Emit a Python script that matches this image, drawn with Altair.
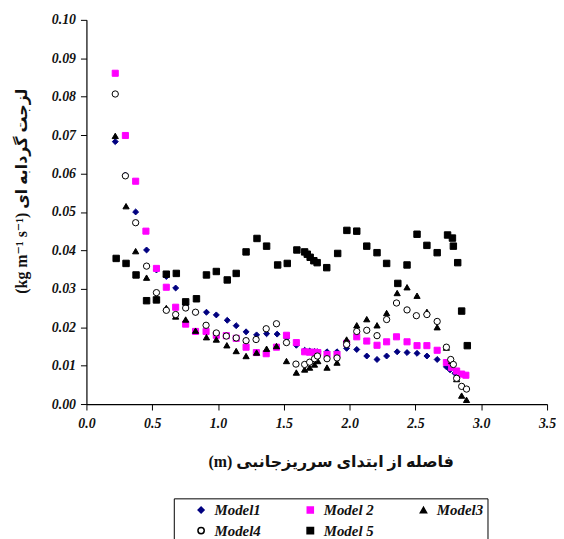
import altair as alt
import pandas as pd

series_names = ["Model1", "Model 2", "Model3", "Model4", "Model 5"]

m1_x = [0.219, 0.296, 0.374, 0.457, 0.532, 0.607, 0.678, 0.754, 0.829, 0.912, 0.987, 1.070, 1.138, 1.213,
        1.293, 1.369, 1.449, 1.522, 1.595, 1.658, 1.696, 1.733, 1.758, 1.828, 1.904, 1.977, 2.054, 2.130,
        2.208, 2.281, 2.361, 2.436, 2.512, 2.587, 2.665, 2.735, 2.763, 2.800]
m1_y = [0.0683, 0.0596, 0.0500, 0.0401, 0.0349, 0.0332, 0.0302, 0.0258, 0.0239, 0.0239, 0.0232, 0.0218, 0.0204, 0.0188,
        0.0180, 0.0183, 0.0182, 0.0172, 0.0153, 0.0140, 0.0138, 0.0137, 0.0136, 0.0136, 0.0136, 0.0145, 0.0142, 0.0125,
        0.0116, 0.0125, 0.0136, 0.0134, 0.0132, 0.0125, 0.0116, 0.0097, 0.0089, 0.0080]

m2_x = [0.219, 0.296, 0.374, 0.452, 0.532, 0.607, 0.678, 0.754, 0.829, 0.909, 0.987, 1.063, 1.138, 1.213,
        1.291, 1.366, 1.444, 1.520, 1.595, 1.658, 1.696, 1.733, 1.758, 1.828, 1.904, 1.977, 2.054, 2.130,
        2.208, 2.281, 2.356, 2.436, 2.512, 2.587, 2.665, 2.735, 2.775, 2.813, 2.851, 2.883]
m2_y = [0.0861, 0.0699, 0.0580, 0.0450, 0.0353, 0.0304, 0.0252, 0.0208, 0.0189, 0.0189, 0.0179, 0.0178, 0.0171, 0.0148,
        0.0134, 0.0131, 0.0148, 0.0179, 0.0160, 0.0136, 0.0135, 0.0135, 0.0134, 0.0129, 0.0129, 0.0158, 0.0175, 0.0164,
        0.0153, 0.0162, 0.0175, 0.0162, 0.0152, 0.0152, 0.0140, 0.0108, 0.0095, 0.0086, 0.0078, 0.0075]

m3_x = [0.219, 0.301, 0.374, 0.457, 0.532, 0.607, 0.678, 0.754, 0.829, 0.912, 0.987, 1.067, 1.138, 1.213,
        1.293, 1.369, 1.444, 1.520, 1.595, 1.658, 1.696, 1.733, 1.758, 1.828, 1.904, 1.977, 2.054, 2.130,
        2.208, 2.281, 2.361, 2.436, 2.512, 2.587, 2.665, 2.735, 2.775, 2.813, 2.851, 2.888]
m3_y = [0.0698, 0.0515, 0.0398, 0.0329, 0.0275, 0.0250, 0.0228, 0.0220, 0.0191, 0.0174, 0.0168, 0.0153, 0.0138, 0.0125,
        0.0134, 0.0144, 0.0151, 0.0112, 0.0082, 0.0090, 0.0095, 0.0103, 0.0112, 0.0095, 0.0108, 0.0168, 0.0205, 0.0221,
        0.0205, 0.0237, 0.0289, 0.0304, 0.0282, 0.0240, 0.0200, 0.0147, 0.0112, 0.0065, 0.0022, 0.0011]

m4_x = [0.219, 0.296, 0.374, 0.457, 0.532, 0.607, 0.678, 0.754, 0.829, 0.909, 0.987, 1.063, 1.138, 1.213,
        1.289, 1.366, 1.444, 1.520, 1.592, 1.658, 1.696, 1.733, 1.755, 1.828, 1.904, 1.977, 2.054, 2.130,
        2.208, 2.281, 2.356, 2.436, 2.507, 2.587, 2.665, 2.735, 2.768, 2.788, 2.813, 2.851, 2.888]
m4_y = [0.0807, 0.0594, 0.0472, 0.0359, 0.0290, 0.0244, 0.0233, 0.0250, 0.0239, 0.0205, 0.0185, 0.0177, 0.0172, 0.0165,
        0.0168, 0.0196, 0.0209, 0.0160, 0.0104, 0.0103, 0.0109, 0.0118, 0.0125, 0.0118, 0.0120, 0.0155, 0.0189, 0.0192,
        0.0178, 0.0220, 0.0263, 0.0245, 0.0230, 0.0233, 0.0215, 0.0148, 0.0116, 0.0103, 0.0067, 0.0046, 0.0039]

m5_x = [0.226, 0.301, 0.377, 0.457, 0.532, 0.607, 0.683, 0.754, 0.836, 0.912, 0.987, 1.070, 1.138, 1.213,
        1.296, 1.369, 1.453, 1.526, 1.599, 1.658, 1.678, 1.700, 1.728, 1.753, 1.826, 1.909, 1.979, 2.054,
        2.130, 2.208, 2.281, 2.366, 2.436, 2.512, 2.587, 2.665, 2.744, 2.781, 2.788, 2.821, 2.851, 2.894]
m5_y = [0.0379, 0.0366, 0.0336, 0.0269, 0.0271, 0.0338, 0.0340, 0.0266, 0.0274, 0.0336, 0.0345, 0.0323, 0.0340, 0.0396,
        0.0431, 0.0411, 0.0362, 0.0366, 0.0401, 0.0396, 0.0390, 0.0382, 0.0373, 0.0368, 0.0355, 0.0392, 0.0452, 0.0450,
        0.0411, 0.0394, 0.0366, 0.0314, 0.0362, 0.0442, 0.0413, 0.0394, 0.0440, 0.0432, 0.0411, 0.0368, 0.0242, 0.0152]

x_ticks = [0.0, 0.5, 1.0, 1.5, 2.0, 2.5, 3.0, 3.5]
y_ticks = [0.00, 0.01, 0.02, 0.03, 0.04, 0.05, 0.06, 0.07, 0.08, 0.09, 0.10]

rows = []
for name, xs, ys in zip(series_names, [m1_x, m2_x, m3_x, m4_x, m5_x], [m1_y, m2_y, m3_y, m4_y, m5_y]):
    for xv, yv in zip(xs, ys):
        rows.append({"series": name, "x": xv, "y": yv})
df = pd.DataFrame(rows)

SERIF = "Liberation Serif, DejaVu Serif, DejaVu Sans"

leg = alt.Legend(
    title=None, orient="none", legendX=88, legendY=482,
    direction="horizontal", columns=3, columnPadding=26, rowPadding=5,
    padding=4, strokeColor="black", fillColor="white",
    labelFont="Liberation Serif", labelFontStyle="italic", labelFontWeight="bold",
    labelFontSize=15, labelColor="#111", labelOffset=6, symbolOffset=16,
)

chart = alt.Chart(df).mark_point(filled=True, strokeWidth=1, opacity=1).encode(
    x=alt.X("x:Q", scale=alt.Scale(domain=[0, 3.5], nice=False),
            axis=alt.Axis(values=x_ticks, format=".1f", labelFlush=False,
                          title="(m) فاصله از ابتدای سرریزجانبی",
                          labelPadding=7, titleX=246, titleY=58, titleBaseline="middle")),
    y=alt.Y("y:Q", scale=alt.Scale(domain=[0, 0.1], nice=False),
            axis=alt.Axis(values=y_ticks, format=".2f",
                          title="(kg m⁻¹ s⁻¹) لزجت گردابه ای",
                          labelPadding=5, titleX=-65, titleY=172, titleBaseline="middle")),
    shape=alt.Shape("series:N", scale=alt.Scale(domain=series_names,
                    range=["diamond", "square", "triangle-up", "circle", "square"]), legend=leg),
    fill=alt.Fill("series:N", scale=alt.Scale(domain=series_names,
                  range=["#000080", "#ff00ff", "#000000", "#ffffff", "#000000"]), legend=leg),
    stroke=alt.Stroke("series:N", scale=alt.Scale(domain=series_names,
                      range=["#000080", "#ff00ff", "#000000", "#000000", "#000000"]), legend=leg),
    size=alt.Size("series:N", scale=alt.Scale(domain=series_names,
                  range=[36, 42, 22, 45, 56]), legend=leg),
).properties(
    width=464, height=387,
    autosize=alt.AutoSizeParams(type="none"),
    padding={"left": 79, "top": 10, "right": 9, "bottom": 134},
).configure_view(stroke=None).configure_axis(
    grid=False, domainColor="black", tickColor="black", tickSize=6, domainWidth=1.2,
    labelFont="Liberation Serif", labelFontStyle="italic", labelFontWeight="bold",
    labelFontSize=14, labelColor="#111",
    titleFont=SERIF, titleFontWeight="bold", titleFontSize=16, titleColor="#111",
)

chart.save("out.html", embed_options={"renderer": "svg", "actions": False})
